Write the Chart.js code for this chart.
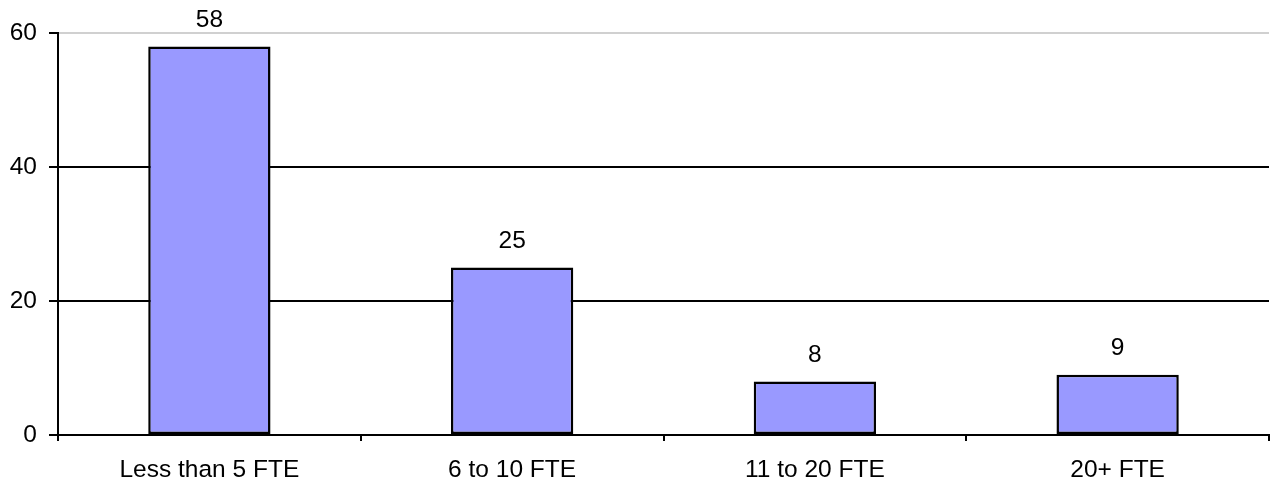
<!DOCTYPE html>
<html>
<head>
<meta charset="utf-8">
<script src="https://cdn.jsdelivr.net/npm/chart.js@4/dist/chart.umd.min.js"></script>
<style>
  html, body { margin: 0; padding: 0; background: #fff; }
  #wrap { width: 1270px; height: 485px; position: relative; }
</style>
</head>
<body>
<div id="wrap"><canvas id="c"></canvas></div>
<script>
// Staff size groups and number of respondents in each
const categories = ['Less than 5 FTE', '6 to 10 FTE', '11 to 20 FTE', '20+ FTE'];
const counts = [58, 25, 8, 9];
const yTicks = [0, 20, 40, 60];

const FONT = '"Liberation Sans", Arial, Helvetica, sans-serif';
const FONT_SIZE = 24.5;

// Writes each bar's value just above it
const valueLabels = {
  id: 'valueLabels',
  afterDatasetsDraw(chart) {
    const ctx = chart.ctx;
    const meta = chart.getDatasetMeta(0);
    ctx.save();
    ctx.font = FONT_SIZE + 'px ' + FONT;
    ctx.fillStyle = '#000';
    ctx.textAlign = 'center';
    ctx.textBaseline = 'middle';
    meta.data.forEach((bar, i) => {
      ctx.fillText(String(counts[i]), bar.x, bar.y - 26);
    });
    ctx.restore();
  }
};

new Chart(document.getElementById('c'), {
  type: 'bar',
  data: {
    labels: categories,
    datasets: [{
      data: counts,
      backgroundColor: '#9999FF',
      borderColor: '#000',
      borderWidth: 2.5,
      borderSkipped: false,
      categoryPercentage: 1,
      barPercentage: 0.404
    }]
  },
  options: {
    responsive: true,
    maintainAspectRatio: false,
    animation: false,
    layout: { padding: { top: 33, right: 1, left: 0, bottom: 0 } },
    plugins: { legend: { display: false }, tooltip: { enabled: false } },
    scales: {
      x: {
        grid: {
          offset: true,
          drawOnChartArea: false,
          color: '#000',
          tickLength: 6,
          lineWidth: 2
        },
        border: { color: '#000', width: 2 },
        ticks: { color: '#000', font: { family: FONT, size: FONT_SIZE }, padding: 15, maxRotation: 0 },
        afterFit(scale) { scale.height = 50; }
      },
      y: {
        min: 0,
        max: 60,
        afterBuildTicks(scale) { scale.ticks = yTicks.map(v => ({ value: v })); },
        grid: {
          color: ctx => (ctx.tick && ctx.tick.value === 60) ? '#d0d0d0' : '#000',
          tickColor: '#000',
          lineWidth: 2,
          tickLength: 9
        },
        border: { color: '#000', width: 2 },
        ticks: { color: '#000', font: { family: FONT, size: FONT_SIZE }, padding: 12 },
        afterFit(scale) { scale.width = 58; }
      }
    }
  },
  plugins: [valueLabels]
});
</script>
</body>
</html>
